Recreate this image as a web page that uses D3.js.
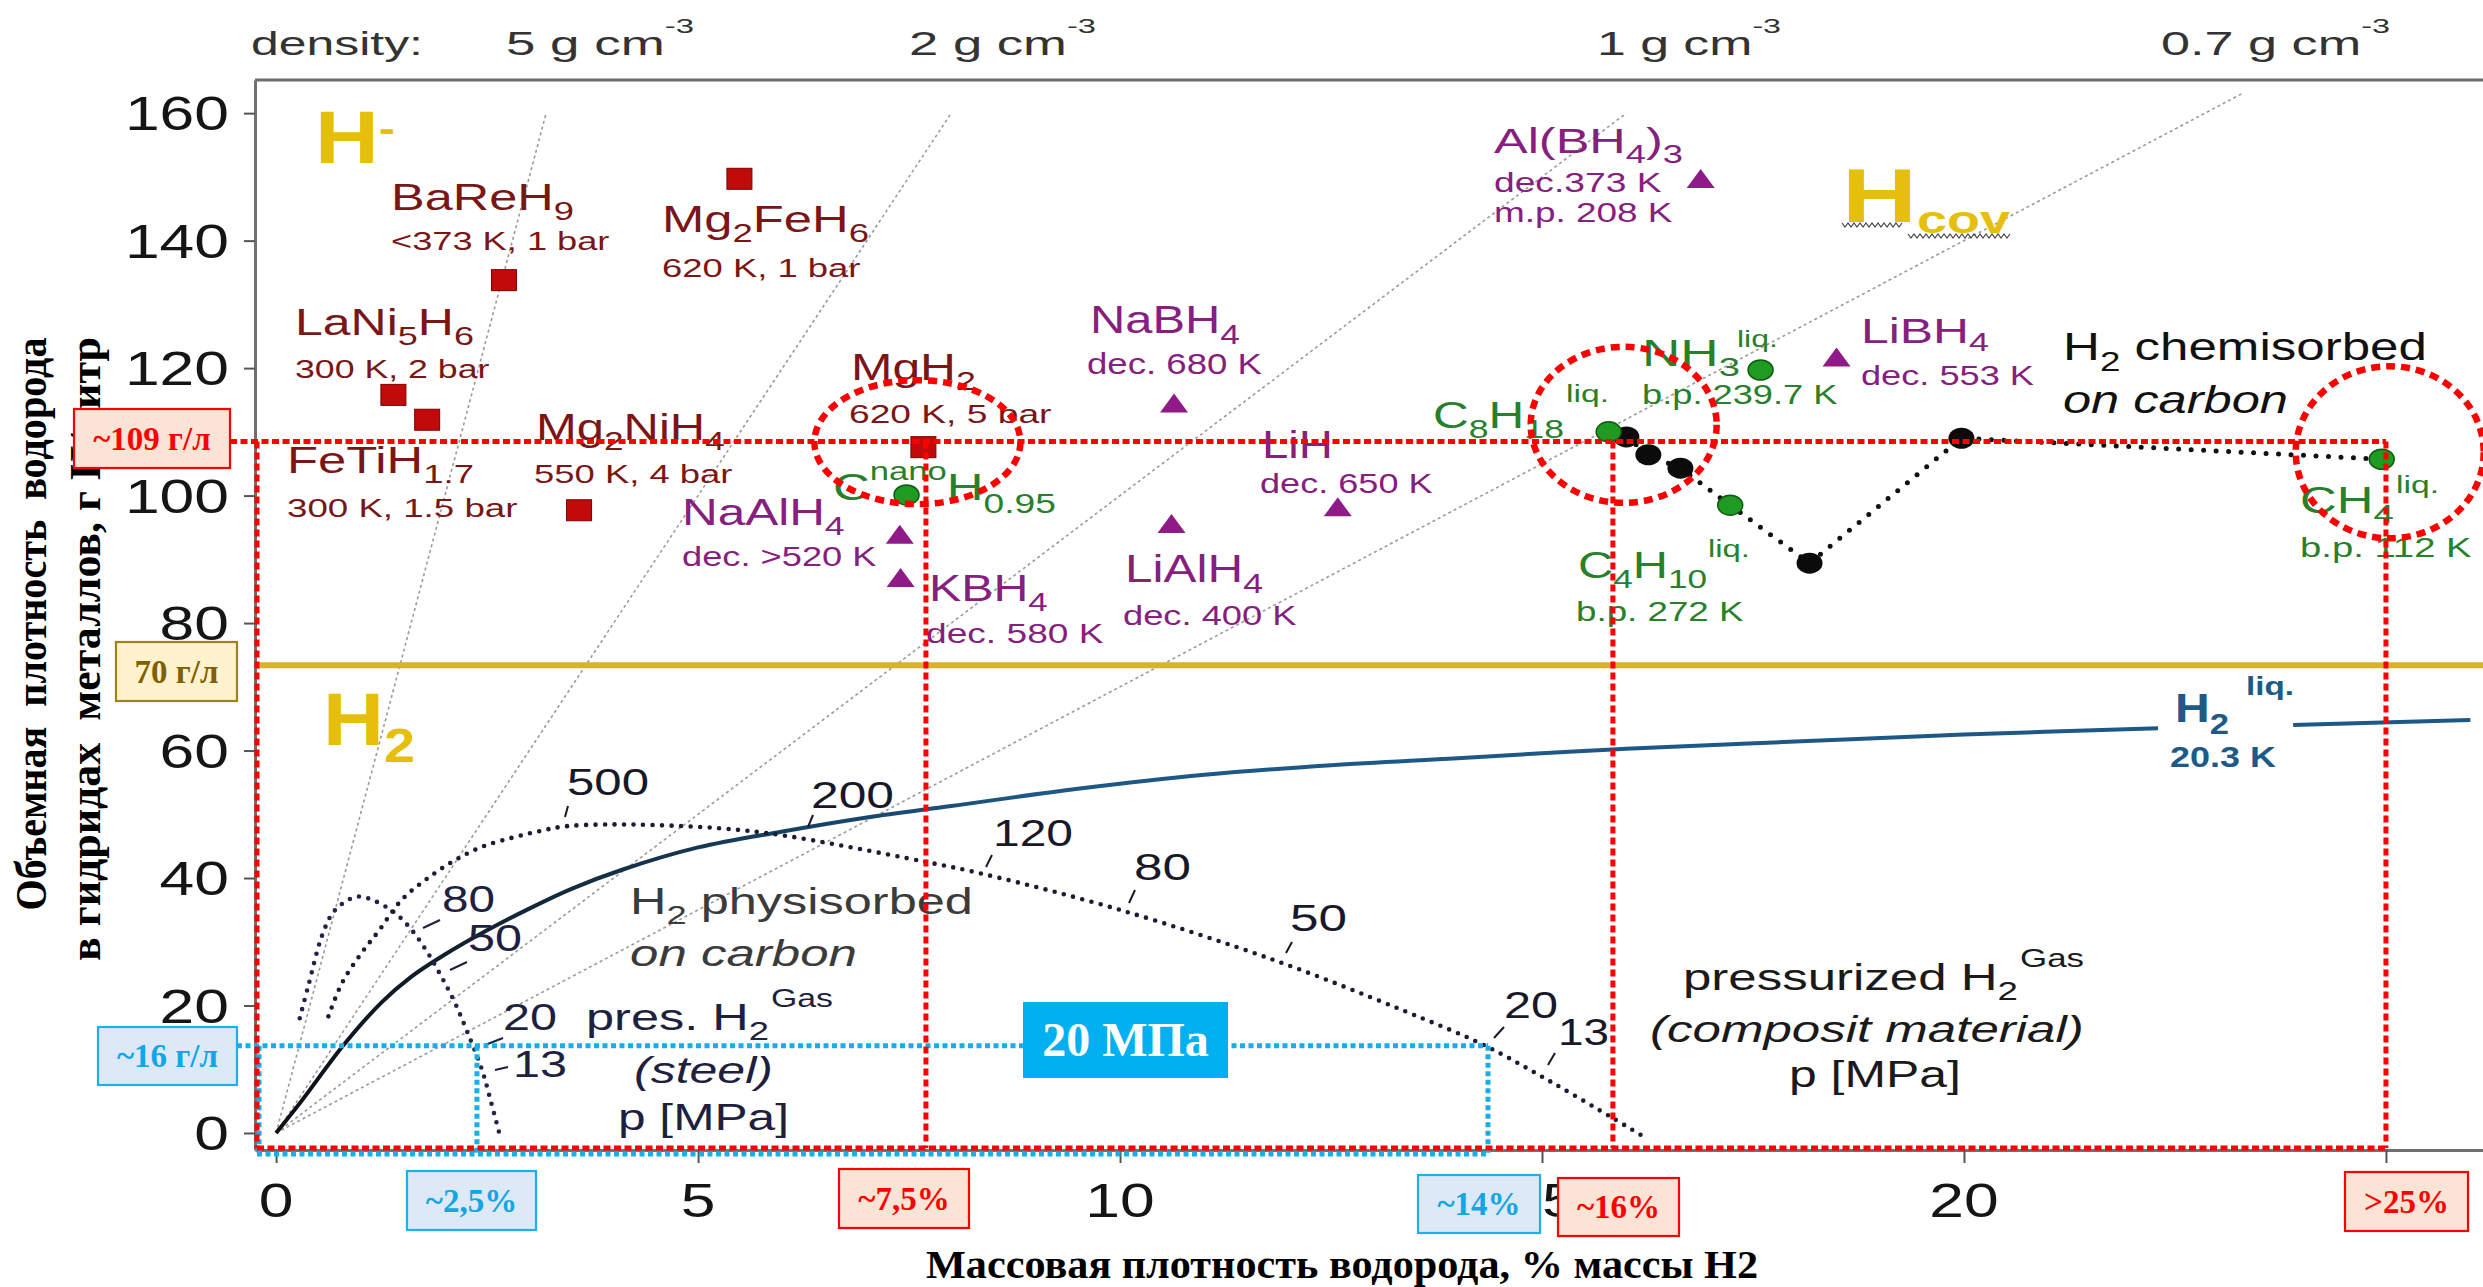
<!DOCTYPE html>
<html>
<head>
<meta charset="utf-8">
<script src="https://cdn.jsdelivr.net/npm/d3@7"></script>
<style>
  html, body { margin: 0; padding: 0; background: #fff; }
  svg { display: block; }
  text { white-space: pre; }
</style>
</head>
<body>
<svg id="chart" width="2483" height="1287"></svg>
<script>
// ---------- data ----------
const massTicks = [0, 5, 10, 15, 20, 25];
const volTicks = [0, 20, 40, 60, 80, 100, 120, 140, 160];

// lines of constant material density (g/cm3) through the origin
const densityLevels = [5, 2, 1, 0.7];
const densityTopVol = [160, 160, 160, 163];
const densityLabels = ["5 g cm", "2 g cm", "1 g cm", "0.7 g cm"];

// metal hydrides (squares)
const hydrideNames = ["BaReH9", "Mg2FeH6", "LaNi5H6", "FeTiH1.7", "Mg2NiH4", "MgH2"];
const hydrideWt  = [2.70, 5.49, 1.39, 1.79, 3.59, 7.67];
const hydrideVol = [133.8, 149.7, 115.8, 111.9, 97.7, 107.6];

// complex hydrides (triangles)
const complexNames = ["NaBH4", "Al(BH4)3", "LiBH4", "NaAlH4", "KBH4", "LiAlH4", "LiH"];
const complexWt  = [10.64, 16.88, 18.49, 7.39, 7.40, 10.61, 12.58];
const complexVol = [114.3, 149.5, 121.5, 93.7, 86.9, 95.4, 98.0];

// liquids and carbon hydride (green circles)
const liquidNames = ["CnanoH0.95", "NH3", "C8H18", "C4H10", "CH4"];
const liquidWt  = [7.47, 17.59, 15.79, 17.23, 24.95];
const liquidVol = [100.1, 119.7, 110.0, 98.5, 105.7];

// H2 chemisorbed on carbon (black circles)
const chemWt  = [16.0, 16.26, 16.64, 18.17, 19.97];
const chemVol = [109.2, 106.4, 104.3, 89.4, 109.0];

// liquid hydrogen curve (broken for its label)
const liqWtA  = [0, 0.3, 0.8, 1.25, 1.6, 2.0, 2.5, 3.0, 3.5, 4.1, 5.0, 6.0, 7.0, 8.0, 9.5, 11.0, 12.5, 14.0, 16.0, 18.0, 20.0, 22.3];
const liqVolA = [0, 5, 13.8, 20.5, 24.5, 28, 31.8, 35.2, 38.3, 41.3, 44.8, 47.3, 49.5, 51.3, 54, 56.2, 57.7, 58.8, 60.3, 61.4, 62.5, 63.5];
const liqWtB  = [23.9, 26.0];
const liqVolB = [64.0, 64.8];

// pressurized gas, steel cylinder
const steelWt  = [0.28, 0.38, 0.54, 0.67, 0.82, 0.97, 1.17, 1.41, 1.61, 1.80, 1.96, 2.12, 2.27, 2.44, 2.55, 2.65];
const steelVol = [18, 23, 30.8, 34.5, 36.3, 37.1, 36.4, 34.5, 31.8, 28.2, 24.5, 20.4, 15.7, 9.9, 4.7, -0.3];
const steelPressures = ["80", "50", "20", "13"];

// pressurized gas, composite tank
const compWt  = [0.62, 0.78, 1.01, 1.21, 1.49, 1.80, 2.12, 2.44, 2.79, 3.10, 3.42, 3.90, 4.49, 5.26, 6.0, 7.67, 8.42, 10.0, 11.83, 13.34, 14.31, 15.07, 15.83, 16.17];
const compVol = [18.3, 23.5, 28.2, 31.6, 36.6, 40.0, 42.8, 44.9, 46.3, 47.3, 48.1, 48.4, 48.3, 47.8, 46.7, 42.6, 40.5, 35.0, 27.1, 19.3, 13.8, 8.3, 2.4, -0.3];
const compPressures = ["500", "200", "120", "80", "50", "20", "13"];

// reference levels
const volMarks = [108.5, 73.4, 13.7];
const volMarkLabels = ["~109 г/л", "70 г/л", "~16 г/л"];
const wtMarks = [2.38, 7.7, 14.36, 15.84, 25];
const wtMarkLabels = ["~2,5%", "~7,5%", "~14%", "~16%", ">25%"];
const gasPressureLabel = "20 МПа";

// ---------- setup ----------
const SANS = "'Liberation Sans', Arial, Helvetica, sans-serif";
const SERIF = "'Liberation Serif', 'Times New Roman', serif";
const C_HYD = "#7a1616", C_CPX = "#86207e", C_LIQ = "#28802b", C_GOLD = "#e6bf0c";
const C_NAVY = "#1f1f40", C_BLUE = "#1e5a88";
const RED = "#ff0000", SKY = "#19aeea";

const svg = d3.select("#chart");
svg.append("rect").attr("width", 2483).attr("height", 1287).attr("fill", "#fff");

const x = d3.scaleLinear().domain([-0.25, 26.15]).range([255, 2483]);
const y = d3.scaleLinear().domain([-2.67, 165.2]).range([1150, 80]);

const defs = svg.append("defs");
const grad = defs.append("linearGradient").attr("id", "liqGrad")
  .attr("gradientUnits", "userSpaceOnUse")
  .attr("x1", x(0)).attr("x2", x(9)).attr("y1", 0).attr("y2", 0);
grad.append("stop").attr("offset", 0).attr("stop-color", "#0d0f14");
grad.append("stop").attr("offset", 1).attr("stop-color", "#1d5886");

function sub(s, k = 0.72, off = 0.28) { return [s, k, off]; }
function sup(s, k = 0.66, off = -0.52) { return [s, k, off]; }

// text with sub/superscripts, stretched horizontally to a given width
function label(parent, px, py, parts, o) {
  const t = parent.append("text")
    .attr("font-family", o.family || SANS)
    .attr("font-size", o.size)
    .attr("fill", o.color || "#111")
    .attr("font-weight", o.bold ? "bold" : "normal")
    .attr("font-style", o.italic ? "italic" : "normal")
    .attr("text-anchor", o.anchor || "start");
  let cur = 0;
  parts.forEach(p => {
    const [s, k, off] = Array.isArray(p) ? p : [p, 1, 0];
    const target = off * o.size;
    t.append("tspan").attr("font-size", o.size * k).attr("dy", (target - cur).toFixed(2)).text(s);
    cur = target;
  });
  const w = t.node().getBBox().width;
  const sx = o.width ? o.width / w : (o.stretch || 1.3);
  t.attr("transform", `translate(${px},${py}) scale(${sx.toFixed(4)},1)`);
  return t;
}

const zipPts = (ws, vs) => ws.map((w, i) => [w, vs[i]]);
const curve = d3.line().x(d => x(d[0])).y(d => y(d[1])).curve(d3.curveCatmullRom.alpha(0.5));

// ---------- density guide lines ----------
const gGuide = svg.append("g");
densityLevels.forEach((rho, i) => {
  const vTop = densityTopVol[i];
  gGuide.append("line")
    .attr("x1", x(0)).attr("y1", y(0))
    .attr("x2", x(vTop / (10 * rho))).attr("y2", y(vTop))
    .attr("stroke", "#9a9a9a").attr("stroke-width", 1.6).attr("stroke-dasharray", "3 3");
});

// density captions along the top
label(svg, 251, 55, ["density:"], { size: 34, color: "#333", width: 172 });
const densX = [506, 909, 1597, 2161];
const densW = [188, 187, 184, 229];
densityLabels.forEach((s, i) => {
  label(svg, densX[i], 55, [s, sup("-3", 0.62, -0.64)], { size: 34, color: "#333", width: densW[i] });
});

// ---------- liquid-hydrogen density level ----------
svg.append("line").attr("x1", 257).attr("x2", 2483)
  .attr("y1", y(volMarks[1])).attr("y2", y(volMarks[1]))
  .attr("stroke", "#d8b22c").attr("stroke-width", 6);

// ---------- axes ----------
const axisY = svg.append("g").attr("transform", "translate(255,0)")
  .call(d3.axisLeft(y).tickValues(volTicks).tickSize(11).tickSizeOuter(0).tickFormat(""));
const axisX = svg.append("g").attr("transform", "translate(0,1150)")
  .call(d3.axisBottom(x).tickValues(massTicks).tickSize(13).tickSizeOuter(0).tickFormat(""));
[axisY, axisX].forEach(a => {
  a.select(".domain").attr("stroke", "#707070").attr("stroke-width", 3);
  a.selectAll(".tick line").attr("stroke", "#555").attr("stroke-width", 2);
});
svg.append("line").attr("x1", 255).attr("x2", 2483).attr("y1", 80).attr("y2", 80)
  .attr("stroke", "#6e6e6e").attr("stroke-width", 3);

volTicks.forEach(v => label(svg, 229, y(v) + 17, [String(v)], { size: 48, color: "#151515", anchor: "end", stretch: 1.3 }));

// mass-fraction tick labels; 15 and 25 sit mostly under the value boxes,
// so only the part of "15" left uncovered (its "5") is drawn
const boxedTicks = new Set([15, 25]);
massTicks.filter(w => !boxedTicks.has(w))
  .forEach(w => label(svg, x(w), 1217, [String(w)], { size: 48, color: "#151515", anchor: "middle", stretch: 1.3 }));
label(svg, x(15), 1217, [String(15).slice(1)], { size: 48, color: "#151515", anchor: "start", stretch: 1.3 });

// ---------- curves ----------
svg.append("path").attr("d", curve(zipPts(liqWtA, liqVolA)))
  .attr("fill", "none").attr("stroke", "url(#liqGrad)").attr("stroke-width", 4);
svg.append("path").attr("d", curve(zipPts(liqWtB, liqVolB)))
  .attr("fill", "none").attr("stroke", "#1d5886").attr("stroke-width", 4);

svg.append("path").attr("d", curve(zipPts(steelWt, steelVol)))
  .attr("fill", "none").attr("stroke", "#22224a").attr("stroke-width", 4.6)
  .attr("stroke-linecap", "round").attr("stroke-dasharray", "0 9.5");
svg.append("path").attr("d", curve(zipPts(compWt, compVol)))
  .attr("fill", "none").attr("stroke", "#1b1b33").attr("stroke-width", 4.6)
  .attr("stroke-linecap", "round").attr("stroke-dasharray", "0 9.5");

// pressure captions with their pointer dashes
const steelLab = [[442, 912, 53], [468, 951, 54], [503, 1030, 54], [513, 1077, 54]];
const steelDash = [[423, 928, 440, 920], [450, 970, 467, 962], [485, 1045, 503, 1038], [495, 1070, 508, 1067]];
steelPressures.forEach((p, i) => {
  label(svg, steelLab[i][0], steelLab[i][1], [p], { size: 37, color: C_NAVY, width: steelLab[i][2] });
  const d = steelDash[i];
  svg.append("line").attr("x1", d[0]).attr("y1", d[1]).attr("x2", d[2]).attr("y2", d[3])
    .attr("stroke", C_NAVY).attr("stroke-width", 2);
});
const compLab = [[567, 795, 82], [811, 808, 83], [993, 846, 80], [1134, 880, 57], [1290, 931, 57], [1504, 1018, 54], [1558, 1045, 51]];
const compDash = [[565, 817, 568, 806], [808, 827, 813, 815], [986, 867, 992, 855], [1129, 903, 1135, 890], [1286, 953, 1292, 942], [1494, 1038, 1504, 1027], [1548, 1065, 1555, 1053]];
compPressures.forEach((p, i) => {
  label(svg, compLab[i][0], compLab[i][1], [p], { size: 37, color: "#181828", width: compLab[i][2] });
  const d = compDash[i];
  svg.append("line").attr("x1", d[0]).attr("y1", d[1]).attr("x2", d[2]).attr("y2", d[3])
    .attr("stroke", "#181828").attr("stroke-width", 2);
});

// chemisorbed chain through the hydrocarbons
const chain = zipPts(chemWt, chemVol)
  .concat([[liquidWt[3], liquidVol[3]], [liquidWt[4], liquidVol[4]]])
  .sort((a, b) => a[0] - b[0]);
svg.append("path").attr("d", d3.line().x(d => x(d[0])).y(d => y(d[1]))(chain))
  .attr("fill", "none").attr("stroke", "#111").attr("stroke-width", 5)
  .attr("stroke-linecap", "round").attr("stroke-dasharray", "0 12.5");

// ---------- markers ----------
const gM = svg.append("g");
gM.selectAll("rect.hyd").data(zipPts(hydrideWt, hydrideVol)).join("rect")
  .attr("x", d => x(d[0]) - 12.5).attr("y", d => y(d[1]) - 10.5)
  .attr("width", 25).attr("height", 21)
  .attr("fill", "#c20a0a").attr("stroke", "#7d0000").attr("stroke-width", 1);
gM.selectAll("path.cpx").data(zipPts(complexWt, complexVol)).join("path")
  .attr("d", d => `M${x(d[0])},${y(d[1]) - 11}L${x(d[0]) + 14},${y(d[1]) + 8}L${x(d[0]) - 14},${y(d[1]) + 8}Z`)
  .attr("fill", "#8f1a88");
gM.selectAll("ellipse.chem").data(zipPts(chemWt, chemVol)).join("ellipse")
  .attr("cx", d => x(d[0])).attr("cy", d => y(d[1])).attr("rx", 13).attr("ry", 10.5)
  .attr("fill", "#0b0b0b");
gM.selectAll("ellipse.liq").data(zipPts(liquidWt, liquidVol)).join("ellipse")
  .attr("cx", d => x(d[0])).attr("cy", d => y(d[1])).attr("rx", 12.5).attr("ry", 10)
  .attr("fill", "#1f9a22").attr("stroke", "#0e5a10").attr("stroke-width", 1.5);

// ---------- labels ----------
// class symbols
label(svg, 315, 163, ["H", ["-", 0.55, -0.28]], { size: 74, bold: true, color: C_GOLD, width: 80 });
label(svg, 323, 745, ["H", ["2", 0.66, 0.23]], { size: 74, bold: true, color: C_GOLD, width: 92 });
label(svg, 1842, 222, ["H", ["cov", 0.52, 0.15]], { size: 76, bold: true, color: C_GOLD, width: 168 });
// wavy underline below H_cov
const zig = (x0, x1, yy) => d3.range(x0, x1, 3).map((v, i) => [v, yy + (i % 2 ? 2 : -2)]);
[[1842, 1904, 225], [1908, 2012, 236]].forEach(s => {
  svg.append("path").attr("d", d3.line()(zig(s[0], s[1], s[2])))
    .attr("fill", "none").attr("stroke", "#444").attr("stroke-width", 1.2);
});

// metal hydrides
const H = { color: C_HYD };
label(svg, 391, 210, ["BaReH", sub("9")], { ...H, size: 36, width: 183 });
label(svg, 391, 250, ["<373 K, 1 bar"], { ...H, size: 26, width: 219 });
label(svg, 662, 232, ["Mg", sub("2"), "FeH", sub("6")], { ...H, size: 37, width: 207 });
label(svg, 662, 277, ["620 K, 1 bar"], { ...H, size: 26, width: 199 });
label(svg, 295, 335, ["LaNi", sub("5"), "H", sub("6")], { ...H, size: 37, width: 179 });
label(svg, 295, 378, ["300 K, 2 bar"], { ...H, size: 26, width: 195 });
label(svg, 287, 473, ["FeTiH", sub("1.7")], { ...H, size: 37, width: 187 });
label(svg, 287, 517, ["300 K, 1.5 bar"], { ...H, size: 26, width: 231 });
label(svg, 536, 440, ["Mg", sub("2"), "NiH", sub("4")], { ...H, size: 37, width: 189 });
label(svg, 534, 483, ["550 K, 4 bar"], { ...H, size: 26, width: 199 });
label(svg, 851, 380, ["MgH", sub("2")], { ...H, size: 37, width: 125 });
label(svg, 849, 423, ["620 K, 5 bar"], { ...H, size: 26, width: 203 });

// complex hydrides
const P = { color: C_CPX };
label(svg, 1090, 333, ["NaBH", sub("4")], { ...P, size: 38, width: 150 });
label(svg, 1087, 374, ["dec. 680 K"], { ...P, size: 29, width: 176 });
label(svg, 1494, 153, ["Al(BH", sub("4"), ")", sub("3")], { ...P, size: 36, width: 189 });
label(svg, 1494, 192, ["dec.373 K"], { ...P, size: 28, width: 168 });
label(svg, 1494, 222, ["m.p. 208 K"], { ...P, size: 28, width: 179 });
label(svg, 1861, 343, ["LiBH", sub("4", 0.72, 0.22)], { ...P, size: 36, width: 128 });
label(svg, 1861, 385, ["dec. 553 K"], { ...P, size: 27, width: 173 });
label(svg, 682, 525, ["NaAlH", sub("4")], { ...P, size: 37, width: 163 });
label(svg, 682, 566, ["dec. >520 K"], { ...P, size: 28, width: 195 });
label(svg, 929, 601, ["KBH", sub("4")], { ...P, size: 37, width: 119 });
label(svg, 926, 643, ["dec. 580 K"], { ...P, size: 28, width: 178 });
label(svg, 1125, 582, ["LiAlH", sub("4")], { ...P, size: 38, width: 138 });
label(svg, 1123, 625, ["dec. 400 K"], { ...P, size: 28, width: 174 });
label(svg, 1262, 458, ["LiH"], { ...P, size: 38, width: 71 });
label(svg, 1260, 493, ["dec. 650 K"], { ...P, size: 28, width: 173 });

// liquids
const G = { color: C_LIQ };
label(svg, 833, 500, ["C", sup("nano", 0.68, -0.54), "H", sub("0.95", 0.73, 0.35)], { ...G, size: 37, width: 223 });
label(svg, 1433, 428, ["C", sub("8"), "H", sub("18")], { ...G, size: 37, width: 131 });
label(svg, 1566, 402, ["liq."], { ...G, size: 24, width: 43 });
label(svg, 1642, 366, ["NH", sub("3")], { ...G, size: 37, width: 98 });
label(svg, 1737, 347, ["liq."], { ...G, size: 24, width: 41 });
label(svg, 1642, 404, ["b.p. 239.7 K"], { ...G, size: 28, width: 196 });
label(svg, 1578, 578, ["C", sub("4"), "H", sub("10")], { ...G, size: 37, width: 129 });
label(svg, 1708, 557, ["liq."], { ...G, size: 24, width: 42 });
label(svg, 1576, 621, ["b.p. 272 K"], { ...G, size: 28, width: 168 });
label(svg, 2300, 513, ["CH", sub("4")], { ...G, size: 37, width: 94 });
label(svg, 2396, 493, ["liq."], { ...G, size: 24, width: 43 });
label(svg, 2300, 557, ["b.p. 112 K"], { ...G, size: 28, width: 172 });

// carbon sorption and gas storage captions
label(svg, 2063, 360, ["H", sub("2"), " chemisorbed"], { size: 38, color: "#111", width: 364 });
label(svg, 2063, 413, ["on carbon"], { size: 38, color: "#111", italic: true, width: 225 });
label(svg, 630, 914, ["H", sub("2"), " physisorbed"], { size: 37, color: "#3b3b3b", width: 343 });
label(svg, 630, 966, ["on carbon"], { size: 37, color: "#3b3b3b", italic: true, width: 227 });
label(svg, 586, 1030, ["pres. H", sub("2")], { size: 37, color: C_NAVY, width: 183 });
label(svg, 771, 1007, ["Gas"], { size: 26, color: C_NAVY, width: 62 });
label(svg, 634, 1083, ["(steel)"], { size: 37, color: C_NAVY, italic: true, width: 139 });
label(svg, 618, 1130, ["p [MPa]"], { size: 37, color: C_NAVY, width: 171 });
label(svg, 1683, 990, ["pressurized H", sub("2")], { size: 37, color: "#1a1a1a", width: 335 });
label(svg, 2020, 967, ["Gas"], { size: 26, color: "#1a1a1a", width: 64 });
label(svg, 1650, 1042, ["(composit material)"], { size: 37, color: "#1a1a1a", italic: true, width: 434 });
label(svg, 1789, 1087, ["p [MPa]"], { size: 37, color: "#1a1a1a", width: 172 });

// liquid hydrogen caption
label(svg, 2175, 722, ["H", sub("2", 0.72, 0.3)], { size: 40, bold: true, color: C_BLUE, width: 54 });
label(svg, 2246, 695, ["liq."], { size: 26, bold: true, color: C_BLUE, width: 48 });
label(svg, 2170, 767, ["20.3 K"], { size: 29, bold: true, color: C_BLUE, width: 106 });

// ---------- axis titles ----------
svg.append("text").attr("transform", "translate(46,624) rotate(-90)")
  .attr("text-anchor", "middle").attr("font-family", SERIF).attr("font-weight", "bold")
  .attr("font-size", 44).attr("fill", "#000")
  .attr("textLength", 573).attr("lengthAdjust", "spacingAndGlyphs")
  .text("Объемная  плотность  водорода");
svg.append("text").attr("transform", "translate(100,649) rotate(-90)")
  .attr("text-anchor", "middle").attr("font-family", SERIF).attr("font-weight", "bold")
  .attr("font-size", 44).attr("fill", "#000")
  .attr("textLength", 624).attr("lengthAdjust", "spacingAndGlyphs")
  .text("в гидридах  металлов, г Н/литр");
svg.append("text").attr("x", 1342).attr("y", 1278)
  .attr("text-anchor", "middle").attr("font-family", SERIF).attr("font-weight", "bold")
  .attr("font-size", 41).attr("fill", "#000")
  .attr("textLength", 832).attr("lengthAdjust", "spacingAndGlyphs")
  .text("Массовая плотность водорода, % массы H2");

// ---------- reference frames ----------
const gRef = svg.append("g").attr("fill", "none");
const seg = (x1, y1, x2, y2, color, dash) => gRef.append("line")
  .attr("x1", x1).attr("y1", y1).attr("x2", x2).attr("y2", y2)
  .attr("stroke", color).attr("stroke-width", 5).attr("stroke-dasharray", dash);

// 20 MPa frame (blue)
const yBlue = y(volMarks[2]);
seg(237, yBlue, x(wtMarks[2]), yBlue, SKY, "5 3.5");
seg(257, 1154, x(wtMarks[2]), 1154, SKY, "5 3.5");
seg(259, yBlue, 259, 1154, SKY, "5 3.5");
[wtMarks[0], wtMarks[2]].forEach(w => seg(x(w), yBlue, x(w), 1154, SKY, "5 3.5"));

// storage target frame (red)
const yRed = y(volMarks[0]);
seg(230, yRed, x(wtMarks[4]), yRed, RED, "7 3.5");
seg(257, 1148, x(wtMarks[4]), 1148, RED, "7 3.5");
seg(257, yRed, 257, 1148, RED, "7 4");
[wtMarks[1], wtMarks[3], wtMarks[4]].forEach(w => seg(x(w), yRed, x(w), 1148, RED, "7 4"));

// highlighted materials
const rings = [
  { w: hydrideWt[5], v: hydrideVol[5], dx: -6, dy: -5, rx: 103, ry: 62 },
  { w: liquidWt[2], v: liquidVol[2], dx: 15, dy: -7, rx: 93, ry: 78 },
  { w: liquidWt[4], v: liquidVol[4], dx: 8, dy: -7, rx: 94, ry: 86 }
];
rings.forEach(r => gRef.append("ellipse")
  .attr("cx", x(r.w) + r.dx).attr("cy", y(r.v) + r.dy).attr("rx", r.rx).attr("ry", r.ry)
  .attr("stroke", RED).attr("stroke-width", 6.5).attr("stroke-dasharray", "9 6"));

// ---------- value boxes ----------
const STY = {
  red:  { fill: "#fbe3d6", stroke: "#ff0000", text: "#ff0000" },
  blue: { fill: "#dde9f6", stroke: "#1cb0ec", text: "#12a6e6" },
  gold: { fill: "#fff2cc", stroke: "#a0821a", text: "#7f6000" }
};
function box(x0, y0, x1, y1, txt, s, size = 33) {
  svg.append("rect").attr("x", x0).attr("y", y0).attr("width", x1 - x0).attr("height", y1 - y0)
    .attr("fill", s.fill).attr("stroke", s.stroke).attr("stroke-width", 2.2);
  svg.append("text").attr("x", (x0 + x1) / 2).attr("y", (y0 + y1) / 2 + size * 0.34)
    .attr("text-anchor", "middle").attr("font-family", SERIF).attr("font-weight", "bold")
    .attr("font-size", size).attr("fill", s.text).text(txt);
}
box(74, 409, 230, 468, volMarkLabels[0], STY.red);
box(116, 642, 237, 701, volMarkLabels[1], STY.gold);
box(98, 1027, 237, 1085, volMarkLabels[2], STY.blue);
box(407, 1171, 536, 1230, wtMarkLabels[0], STY.blue);
box(839, 1169, 969, 1228, wtMarkLabels[1], STY.red);
box(1418, 1175, 1540, 1233, wtMarkLabels[2], STY.blue);
box(1558, 1178, 1679, 1236, wtMarkLabels[3], STY.red);
box(2345, 1172, 2468, 1231, wtMarkLabels[4], STY.red);

svg.append("rect").attr("x", 1023).attr("y", 1002).attr("width", 205).attr("height", 76)
  .attr("fill", "#00b0f0");
svg.append("text").attr("x", 1125.5).attr("y", 1056).attr("text-anchor", "middle")
  .attr("font-family", SERIF).attr("font-weight", "bold").attr("font-size", 48)
  .attr("fill", "#fff").text(gasPressureLabel);
</script>
</body>
</html>
